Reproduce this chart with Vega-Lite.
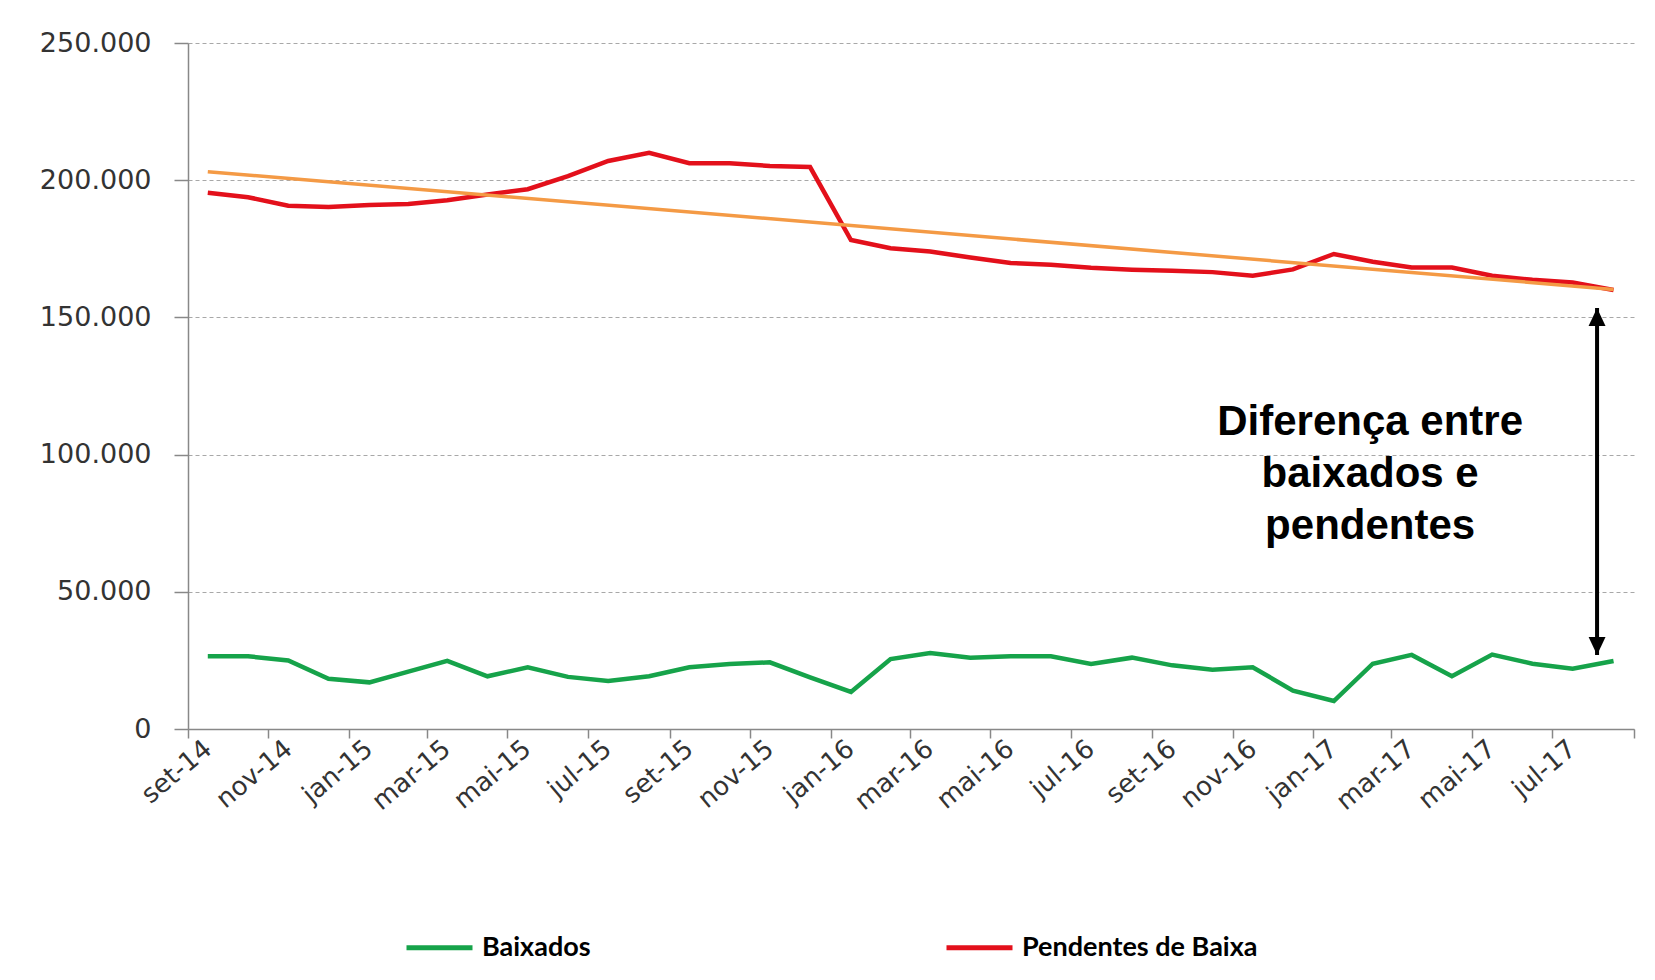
{
  "$schema": "https://vega.github.io/schema/vega-lite/v6.json",
  "width": 1446,
  "height": 686,
  "autosize": {"type": "none"},
  "padding": {"left": 188, "top": 43, "right": 21, "bottom": 251},
  "background": "white",
  "config": {
    "view": {"stroke": null},
    "locale": {"number": {"decimal": ",", "thousands": ".", "grouping": [3], "currency": ["R$", ""]}}
  },
  "datasets": {
    "series": [
      {"mes": "2014-09", "serie": "Baixados", "valor": 26500},
      {"mes": "2014-10", "serie": "Baixados", "valor": 26500},
      {"mes": "2014-11", "serie": "Baixados", "valor": 25000},
      {"mes": "2014-12", "serie": "Baixados", "valor": 18300},
      {"mes": "2015-01", "serie": "Baixados", "valor": 17000},
      {"mes": "2015-02", "serie": "Baixados", "valor": 20900},
      {"mes": "2015-03", "serie": "Baixados", "valor": 24800},
      {"mes": "2015-04", "serie": "Baixados", "valor": 19200},
      {"mes": "2015-05", "serie": "Baixados", "valor": 22500},
      {"mes": "2015-06", "serie": "Baixados", "valor": 19000},
      {"mes": "2015-07", "serie": "Baixados", "valor": 17500},
      {"mes": "2015-08", "serie": "Baixados", "valor": 19200},
      {"mes": "2015-09", "serie": "Baixados", "valor": 22500},
      {"mes": "2015-10", "serie": "Baixados", "valor": 23700},
      {"mes": "2015-11", "serie": "Baixados", "valor": 24300},
      {"mes": "2015-12", "serie": "Baixados", "valor": 18800},
      {"mes": "2016-01", "serie": "Baixados", "valor": 13500},
      {"mes": "2016-02", "serie": "Baixados", "valor": 25500},
      {"mes": "2016-03", "serie": "Baixados", "valor": 27700},
      {"mes": "2016-04", "serie": "Baixados", "valor": 26000},
      {"mes": "2016-05", "serie": "Baixados", "valor": 26500},
      {"mes": "2016-06", "serie": "Baixados", "valor": 26500},
      {"mes": "2016-07", "serie": "Baixados", "valor": 23700},
      {"mes": "2016-08", "serie": "Baixados", "valor": 26000},
      {"mes": "2016-09", "serie": "Baixados", "valor": 23200},
      {"mes": "2016-10", "serie": "Baixados", "valor": 21600},
      {"mes": "2016-11", "serie": "Baixados", "valor": 22500},
      {"mes": "2016-12", "serie": "Baixados", "valor": 14000},
      {"mes": "2017-01", "serie": "Baixados", "valor": 10200},
      {"mes": "2017-02", "serie": "Baixados", "valor": 23800},
      {"mes": "2017-03", "serie": "Baixados", "valor": 27000},
      {"mes": "2017-04", "serie": "Baixados", "valor": 19200},
      {"mes": "2017-05", "serie": "Baixados", "valor": 27100},
      {"mes": "2017-06", "serie": "Baixados", "valor": 23800},
      {"mes": "2017-07", "serie": "Baixados", "valor": 22000},
      {"mes": "2017-08", "serie": "Baixados", "valor": 24800},
      {"mes": "2014-09", "serie": "Pendentes de Baixa", "valor": 195400},
      {"mes": "2014-10", "serie": "Pendentes de Baixa", "valor": 193800},
      {"mes": "2014-11", "serie": "Pendentes de Baixa", "valor": 190700},
      {"mes": "2014-12", "serie": "Pendentes de Baixa", "valor": 190200},
      {"mes": "2015-01", "serie": "Pendentes de Baixa", "valor": 191000},
      {"mes": "2015-02", "serie": "Pendentes de Baixa", "valor": 191300},
      {"mes": "2015-03", "serie": "Pendentes de Baixa", "valor": 192700},
      {"mes": "2015-04", "serie": "Pendentes de Baixa", "valor": 194800},
      {"mes": "2015-05", "serie": "Pendentes de Baixa", "valor": 196700},
      {"mes": "2015-06", "serie": "Pendentes de Baixa", "valor": 201500},
      {"mes": "2015-07", "serie": "Pendentes de Baixa", "valor": 207000},
      {"mes": "2015-08", "serie": "Pendentes de Baixa", "valor": 210000},
      {"mes": "2015-09", "serie": "Pendentes de Baixa", "valor": 206200},
      {"mes": "2015-10", "serie": "Pendentes de Baixa", "valor": 206200},
      {"mes": "2015-11", "serie": "Pendentes de Baixa", "valor": 205200},
      {"mes": "2015-12", "serie": "Pendentes de Baixa", "valor": 204800},
      {"mes": "2016-01", "serie": "Pendentes de Baixa", "valor": 178200},
      {"mes": "2016-02", "serie": "Pendentes de Baixa", "valor": 175200},
      {"mes": "2016-03", "serie": "Pendentes de Baixa", "valor": 174000},
      {"mes": "2016-04", "serie": "Pendentes de Baixa", "valor": 171800},
      {"mes": "2016-05", "serie": "Pendentes de Baixa", "valor": 169800},
      {"mes": "2016-06", "serie": "Pendentes de Baixa", "valor": 169200},
      {"mes": "2016-07", "serie": "Pendentes de Baixa", "valor": 168100},
      {"mes": "2016-08", "serie": "Pendentes de Baixa", "valor": 167400},
      {"mes": "2016-09", "serie": "Pendentes de Baixa", "valor": 167000},
      {"mes": "2016-10", "serie": "Pendentes de Baixa", "valor": 166500},
      {"mes": "2016-11", "serie": "Pendentes de Baixa", "valor": 165200},
      {"mes": "2016-12", "serie": "Pendentes de Baixa", "valor": 167500},
      {"mes": "2017-01", "serie": "Pendentes de Baixa", "valor": 173100},
      {"mes": "2017-02", "serie": "Pendentes de Baixa", "valor": 170300},
      {"mes": "2017-03", "serie": "Pendentes de Baixa", "valor": 168200},
      {"mes": "2017-04", "serie": "Pendentes de Baixa", "valor": 168200},
      {"mes": "2017-05", "serie": "Pendentes de Baixa", "valor": 165200},
      {"mes": "2017-06", "serie": "Pendentes de Baixa", "valor": 163700},
      {"mes": "2017-07", "serie": "Pendentes de Baixa", "valor": 162700},
      {"mes": "2017-08", "serie": "Pendentes de Baixa", "valor": 160000}
    ],
    "tendencia": [
      {"mes": "2014-09", "valor": 203100},
      {"mes": "2017-08", "valor": 160200}
    ],
    "seta": [
      {"mes": "2017-08-04", "topo": 153400, "base": 27000}
    ],
    "nota": [
      {"mes": "2017-02-13", "valor": 111800, "texto": "Diferença entre\nbaixados e\npendentes"}
    ]
  },
  "resolve": {"axis": {"x": "independent", "y": "independent"}},
  "layer": [
    {
      "data": {"name": "series"},
      "mark": {"type": "line", "strokeWidth": 4.5},
      "encoding": {
        "x": {
          "field": "mes", "type": "temporal", "timeUnit": "utcyearmonth", "bandPosition": 0.5,
          "scale": {"type": "utc", "domain": [{"year": 2014, "month": 9, "date": 1, "utc": true}, {"year": 2017, "month": 9, "date": 1, "utc": true}]},
          "axis": null
        },
        "y": {
          "field": "valor", "type": "quantitative",
          "scale": {"domain": [0, 250000], "nice": false},
          "axis": {
            "orient": "left",
            "values": [0, 50000, 100000, 150000, 200000, 250000],
            "format": ",d",
            "title": null,
            "grid": true, "gridDash": [4, 3], "gridColor": "#a8a8a8", "gridWidth": 1,
            "domainColor": "#888888", "domainWidth": 1.5,
            "tickColor": "#888888", "tickSize": 14, "tickWidth": 1.5,
            "labelPadding": 23, "labelFont": "DejaVu Sans", "labelFontSize": 27, "labelColor": "#333333"
          }
        },
        "color": {
          "field": "serie", "type": "nominal",
          "scale": {"domain": ["Baixados", "Pendentes de Baixa"], "range": ["#16a34a", "#e3101b"]},
          "legend": {
            "orient": "none", "legendX": 216, "legendY": 869, "direction": "horizontal",
            "title": null, "symbolType": "stroke", "symbolSize": 4356, "symbolStrokeWidth": 5,
            "labelFont": "Lato", "labelFontWeight": "bold", "labelFontSize": 27, "labelColor": "#000000",
            "labelLimit": 600, "labelOffset": 7, "columnPadding": 345, "padding": 0
          }
        }
      }
    },
    {
      "data": {"name": "tendencia"},
      "mark": {"type": "line", "strokeWidth": 3.5, "color": "#f49a45"},
      "encoding": {
        "x": {"field": "mes", "type": "temporal", "timeUnit": "utcyearmonth", "bandPosition": 0.5, "axis": null},
        "y": {"field": "valor", "type": "quantitative", "axis": null}
      }
    },
    {
      "data": {"name": "seta"},
      "mark": {"type": "rule", "strokeWidth": 4, "color": "#000000"},
      "encoding": {
        "x": {
          "field": "mes", "type": "temporal",
          "axis": {
            "orient": "bottom",
            "values": [
              {"year": 2014, "month": 9, "date": 1, "utc": true},
              {"year": 2014, "month": 11, "date": 1, "utc": true},
              {"year": 2015, "month": 1, "date": 1, "utc": true},
              {"year": 2015, "month": 3, "date": 1, "utc": true},
              {"year": 2015, "month": 5, "date": 1, "utc": true},
              {"year": 2015, "month": 7, "date": 1, "utc": true},
              {"year": 2015, "month": 9, "date": 1, "utc": true},
              {"year": 2015, "month": 11, "date": 1, "utc": true},
              {"year": 2016, "month": 1, "date": 1, "utc": true},
              {"year": 2016, "month": 3, "date": 1, "utc": true},
              {"year": 2016, "month": 5, "date": 1, "utc": true},
              {"year": 2016, "month": 7, "date": 1, "utc": true},
              {"year": 2016, "month": 9, "date": 1, "utc": true},
              {"year": 2016, "month": 11, "date": 1, "utc": true},
              {"year": 2017, "month": 1, "date": 1, "utc": true},
              {"year": 2017, "month": 3, "date": 1, "utc": true},
              {"year": 2017, "month": 5, "date": 1, "utc": true},
              {"year": 2017, "month": 7, "date": 1, "utc": true},
              {"year": 2017, "month": 9, "date": 1, "utc": true}
            ],
            "labels": false, "title": null, "grid": false,
            "domainColor": "#888888", "domainWidth": 1.5,
            "tickColor": "#888888", "tickSize": 9, "tickWidth": 1.5
          }
        },
        "y": {"field": "base", "type": "quantitative", "axis": null},
        "y2": {"field": "topo"}
      }
    },
    {
      "data": {"name": "seta"},
      "mark": {"type": "point", "shape": "M0,0L-0.47,1L0.47,1Z", "filled": true, "color": "#000000", "opacity": 1, "size": 1296},
      "encoding": {
        "x": {"field": "mes", "type": "temporal", "axis": null},
        "y": {"field": "topo", "type": "quantitative", "axis": null}
      }
    },
    {
      "data": {"name": "seta"},
      "mark": {"type": "point", "shape": "M0,0L-0.47,-1L0.47,-1Z", "filled": true, "color": "#000000", "opacity": 1, "size": 1296},
      "encoding": {
        "x": {"field": "mes", "type": "temporal", "axis": null},
        "y": {"field": "base", "type": "quantitative", "axis": null}
      }
    },
    {
      "data": {"name": "nota"},
      "mark": {"type": "text", "font": "Liberation Sans", "fontWeight": "bold", "fontSize": 42, "lineBreak": "\n", "lineHeight": 52, "align": "center", "baseline": "middle", "color": "#000000"},
      "encoding": {
        "x": {
          "field": "mes", "type": "temporal",
          "axis": {
            "orient": "bottom",
            "values": [
              {"year": 2014, "month": 9, "date": 16, "utc": true},
              {"year": 2014, "month": 11, "date": 16, "utc": true},
              {"year": 2015, "month": 1, "date": 16, "utc": true},
              {"year": 2015, "month": 3, "date": 16, "utc": true},
              {"year": 2015, "month": 5, "date": 16, "utc": true},
              {"year": 2015, "month": 7, "date": 16, "utc": true},
              {"year": 2015, "month": 9, "date": 16, "utc": true},
              {"year": 2015, "month": 11, "date": 16, "utc": true},
              {"year": 2016, "month": 1, "date": 16, "utc": true},
              {"year": 2016, "month": 3, "date": 16, "utc": true},
              {"year": 2016, "month": 5, "date": 16, "utc": true},
              {"year": 2016, "month": 7, "date": 16, "utc": true},
              {"year": 2016, "month": 9, "date": 16, "utc": true},
              {"year": 2016, "month": 11, "date": 16, "utc": true},
              {"year": 2017, "month": 1, "date": 16, "utc": true},
              {"year": 2017, "month": 3, "date": 16, "utc": true},
              {"year": 2017, "month": 5, "date": 16, "utc": true},
              {"year": 2017, "month": 7, "date": 16, "utc": true}
            ],
            "labelExpr": "['jan','fev','mar','abr','mai','jun','jul','ago','set','out','nov','dez'][utcmonth(datum.value)] + '-' + utcFormat(datum.value, '%y')",
            "title": null, "grid": false, "ticks": false, "domain": false,
            "labelAngle": -40, "labelAlign": "right", "labelBaseline": "middle",
            "labelPadding": 16, "labelFont": "DejaVu Sans", "labelFontSize": 26, "labelColor": "#333333",
            "labelOverlap": false, "labelBound": false, "labelFlush": false
          }
        },
        "y": {"field": "valor", "type": "quantitative", "axis": null},
        "text": {"field": "texto", "type": "nominal"}
      }
    }
  ]
}
